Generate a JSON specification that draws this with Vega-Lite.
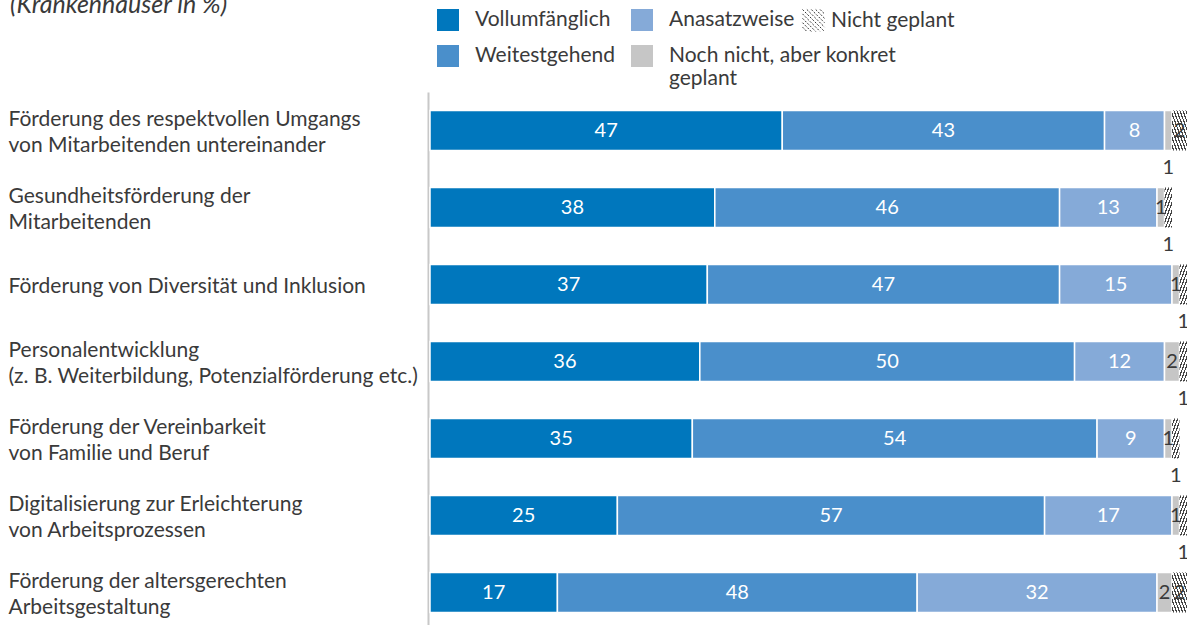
{
  "$schema": "https://vega.github.io/schema/vega-lite/v6.json",
  "width": 757,
  "height": 539,
  "autosize": {"type": "none"},
  "padding": {"left": 430, "top": 92, "right": 0, "bottom": 0},
  "background": "white",
  "config": {"view": {"stroke": null}, "font": "Lato"},
  "title": {"text": "(Krankenhäuser in %)", "anchor": "start", "fontSize": 25, "fontStyle": "italic", "fontWeight": "normal", "color": "#3a3a3a", "font": "Lato", "offset": 0, "dy": 9, "dx": 2},
  "data": {"values": [
    {"item": "Förderung des respektvollen Umgangs|von Mitarbeitenden untereinander", "cat": "Vollumfänglich", "value": 47},
    {"item": "Förderung des respektvollen Umgangs|von Mitarbeitenden untereinander", "cat": "Weitestgehend", "value": 43},
    {"item": "Förderung des respektvollen Umgangs|von Mitarbeitenden untereinander", "cat": "Anasatzweise", "value": 8},
    {"item": "Förderung des respektvollen Umgangs|von Mitarbeitenden untereinander", "cat": "Noch nicht, aber konkret geplant", "value": 1},
    {"item": "Förderung des respektvollen Umgangs|von Mitarbeitenden untereinander", "cat": "Nicht geplant", "value": 2},
    {"item": "Gesundheitsförderung der|Mitarbeitenden", "cat": "Vollumfänglich", "value": 38},
    {"item": "Gesundheitsförderung der|Mitarbeitenden", "cat": "Weitestgehend", "value": 46},
    {"item": "Gesundheitsförderung der|Mitarbeitenden", "cat": "Anasatzweise", "value": 13},
    {"item": "Gesundheitsförderung der|Mitarbeitenden", "cat": "Noch nicht, aber konkret geplant", "value": 1},
    {"item": "Gesundheitsförderung der|Mitarbeitenden", "cat": "Nicht geplant", "value": 1},
    {"item": "Förderung von Diversität und Inklusion", "cat": "Vollumfänglich", "value": 37},
    {"item": "Förderung von Diversität und Inklusion", "cat": "Weitestgehend", "value": 47},
    {"item": "Förderung von Diversität und Inklusion", "cat": "Anasatzweise", "value": 15},
    {"item": "Förderung von Diversität und Inklusion", "cat": "Noch nicht, aber konkret geplant", "value": 1},
    {"item": "Förderung von Diversität und Inklusion", "cat": "Nicht geplant", "value": 1},
    {"item": "Personalentwicklung|(z. B. Weiterbildung, Potenzialförderung etc.)", "cat": "Vollumfänglich", "value": 36},
    {"item": "Personalentwicklung|(z. B. Weiterbildung, Potenzialförderung etc.)", "cat": "Weitestgehend", "value": 50},
    {"item": "Personalentwicklung|(z. B. Weiterbildung, Potenzialförderung etc.)", "cat": "Anasatzweise", "value": 12},
    {"item": "Personalentwicklung|(z. B. Weiterbildung, Potenzialförderung etc.)", "cat": "Noch nicht, aber konkret geplant", "value": 2},
    {"item": "Personalentwicklung|(z. B. Weiterbildung, Potenzialförderung etc.)", "cat": "Nicht geplant", "value": 1},
    {"item": "Förderung der Vereinbarkeit|von Familie und Beruf", "cat": "Vollumfänglich", "value": 35},
    {"item": "Förderung der Vereinbarkeit|von Familie und Beruf", "cat": "Weitestgehend", "value": 54},
    {"item": "Förderung der Vereinbarkeit|von Familie und Beruf", "cat": "Anasatzweise", "value": 9},
    {"item": "Förderung der Vereinbarkeit|von Familie und Beruf", "cat": "Noch nicht, aber konkret geplant", "value": 1},
    {"item": "Förderung der Vereinbarkeit|von Familie und Beruf", "cat": "Nicht geplant", "value": 1},
    {"item": "Digitalisierung zur Erleichterung|von Arbeitsprozessen", "cat": "Vollumfänglich", "value": 25},
    {"item": "Digitalisierung zur Erleichterung|von Arbeitsprozessen", "cat": "Weitestgehend", "value": 57},
    {"item": "Digitalisierung zur Erleichterung|von Arbeitsprozessen", "cat": "Anasatzweise", "value": 17},
    {"item": "Digitalisierung zur Erleichterung|von Arbeitsprozessen", "cat": "Noch nicht, aber konkret geplant", "value": 1},
    {"item": "Digitalisierung zur Erleichterung|von Arbeitsprozessen", "cat": "Nicht geplant", "value": 1},
    {"item": "Förderung der altersgerechten|Arbeitsgestaltung", "cat": "Vollumfänglich", "value": 17},
    {"item": "Förderung der altersgerechten|Arbeitsgestaltung", "cat": "Weitestgehend", "value": 48},
    {"item": "Förderung der altersgerechten|Arbeitsgestaltung", "cat": "Anasatzweise", "value": 32},
    {"item": "Förderung der altersgerechten|Arbeitsgestaltung", "cat": "Noch nicht, aber konkret geplant", "value": 2},
    {"item": "Förderung der altersgerechten|Arbeitsgestaltung", "cat": "Nicht geplant", "value": 2}
  ]},
  "transform": [
    {"calculate": "indexof(['Vollumfänglich','Weitestgehend','Anasatzweise','Noch nicht, aber konkret geplant','Nicht geplant'], datum.cat)", "as": "k"},
    {"stack": "value", "groupby": ["item"], "sort": [{"field": "k", "order": "ascending"}], "as": ["x0", "x1"]},
    {"calculate": "(datum.x0 + datum.x1) / 2", "as": "mid"}
  ],
  "encoding": {
    "y": {
      "field": "item", "type": "nominal",
      "sort": [
        "Förderung des respektvollen Umgangs|von Mitarbeitenden untereinander",
        "Gesundheitsförderung der|Mitarbeitenden",
        "Förderung von Diversität und Inklusion",
        "Personalentwicklung|(z. B. Weiterbildung, Potenzialförderung etc.)",
        "Förderung der Vereinbarkeit|von Familie und Beruf",
        "Digitalisierung zur Erleichterung|von Arbeitsprozessen",
        "Förderung der altersgerechten|Arbeitsgestaltung"
      ],
      "scale": {"paddingInner": 0.48, "paddingOuter": 0.24},
      "axis": {
        "title": null,
        "labelExpr": "split(datum.label, '|')",
        "labelAlign": "left",
        "labelBaseline": "middle",
        "offset": 2,
        "labelPadding": 420,
        "labelOffset": {"condition": {"test": "indexof(datum.value, '|') >= 0", "value": -11}, "value": 2},
        "ticks": false,
        "tickSize": 0,
        "labelFont": "Lato",
        "labelFontSize": 21,
        "labelColor": "#3a3a3a",
        "labelLimit": 430,
        "labelLineHeight": 26,
        "domainColor": "#c8c8c8",
        "domainWidth": 2
      }
    },
    "x": {"field": "x0", "type": "quantitative", "scale": {"domain": [0, 101], "nice": false, "zero": true}, "axis": null}
  },
  "resolve": {"scale": {"fill": "independent"}, "legend": {"fill": "independent"}},
  "layer": [
    {
      "transform": [{"filter": "datum.k <= 3"}],
      "mark": {"type": "bar", "stroke": "white", "strokeWidth": 1.5},
      "encoding": {
        "x2": {"field": "x1"},
        "fill": {
          "field": "cat", "type": "nominal",
          "scale": {
            "domain": ["Vollumfänglich", "Weitestgehend", "Anasatzweise", "Noch nicht, aber konkret geplant"],
            "range": ["#0077bd", "#4a8fcb", "#85aad8", "#c6c6c6"]
          },
          "legend": {
            "orient": "none",
            "legendX": 7,
            "legendY": -83,
            "columns": 2,
            "direction": "horizontal",
            "title": null,
            "padding": 0,
            "values": ["Vollumfänglich", "Anasatzweise", "Weitestgehend", "Noch nicht, aber konkret geplant"],
            "symbolType": "square",
            "symbolSize": 484,
            "symbolStrokeWidth": 0,
            "labelFont": "Lato",
            "labelFontSize": 21,
            "labelColor": "#3a3a3a",
            "labelOffset": 16,
            "labelLimit": 300,
            "columnPadding": 16,
            "rowPadding": 14,
            "labelExpr": "datum.label == 'Noch nicht, aber konkret geplant' ? ['Noch nicht, aber konkret', 'geplant'] : datum.label",
            "labelLineHeight": 26
          }
        }
      }
    },
    {
      "transform": [{"filter": "datum.k == 4"}],
      "mark": {"type": "bar"},
      "encoding": {
        "x2": {"field": "x1"},
        "fill": {
          "condition": {"test": "datum.k == 4", "value": {"gradient": "linear", "x1": 0, "y1": 1, "x2": 1, "y2": 0, "stops": [
            {"offset": 0, "color": "#ffffff"}, {"offset": 0.04, "color": "#ffffff"}, {"offset": 0.04, "color": "#444444"}, {"offset": 0.08, "color": "#444444"},
            {"offset": 0.08, "color": "#ffffff"}, {"offset": 0.14, "color": "#ffffff"},
            {"offset": 0.14, "color": "#444444"}, {"offset": 0.18, "color": "#444444"}, {"offset": 0.18, "color": "#ffffff"}, {"offset": 0.24, "color": "#ffffff"},
            {"offset": 0.24, "color": "#444444"}, {"offset": 0.28, "color": "#444444"}, {"offset": 0.28, "color": "#ffffff"}, {"offset": 0.34, "color": "#ffffff"},
            {"offset": 0.34, "color": "#444444"}, {"offset": 0.38, "color": "#444444"}, {"offset": 0.38, "color": "#ffffff"}, {"offset": 0.44, "color": "#ffffff"},
            {"offset": 0.44, "color": "#444444"}, {"offset": 0.48, "color": "#444444"}, {"offset": 0.48, "color": "#ffffff"}, {"offset": 0.54, "color": "#ffffff"},
            {"offset": 0.54, "color": "#444444"}, {"offset": 0.58, "color": "#444444"}, {"offset": 0.58, "color": "#ffffff"}, {"offset": 0.64, "color": "#ffffff"},
            {"offset": 0.64, "color": "#444444"}, {"offset": 0.68, "color": "#444444"}, {"offset": 0.68, "color": "#ffffff"}, {"offset": 0.74, "color": "#ffffff"},
            {"offset": 0.74, "color": "#444444"}, {"offset": 0.78, "color": "#444444"}, {"offset": 0.78, "color": "#ffffff"}, {"offset": 0.84, "color": "#ffffff"},
            {"offset": 0.84, "color": "#444444"}, {"offset": 0.88, "color": "#444444"}, {"offset": 0.88, "color": "#ffffff"}, {"offset": 0.94, "color": "#ffffff"},
            {"offset": 0.94, "color": "#444444"}, {"offset": 0.98, "color": "#444444"}, {"offset": 0.98, "color": "#ffffff"}, {"offset": 1, "color": "#ffffff"}
          ]}},
          "field": "cat", "type": "nominal",
          "scale": {"domain": ["Nicht geplant"], "range": ["#ffffff"]},
          "legend": {
            "orient": "none",
            "legendX": 372,
            "legendY": -83,
            "title": null,
            "padding": 0,
            "symbolType": "M0.6,-1L1,-0.6M0.2,-1L1,-0.2M-0.2,-1L1,0.2M-0.6,-1L1,0.6M-1,-1L1,1M-1,-0.6L0.6,1M-1,-0.2L0.2,1M-1,0.2L-0.2,1M-1,0.6L-0.6,1",
            "symbolSize": 484,
            "symbolStrokeColor": "#333333",
            "symbolStrokeWidth": 1,
            "symbolDash": [2, 1.5],
            "labelFont": "Lato",
            "labelFontSize": 21,
            "labelColor": "#3a3a3a",
            "labelOffset": 6
          }
        }
      }
    },
    {
      "transform": [{"filter": "datum.k <= 2"}],
      "mark": {"type": "text", "color": "white", "fontSize": 20, "font": "Lato", "baseline": "middle", "align": "center"},
      "encoding": {
        "x": {"field": "mid", "type": "quantitative"},
        "text": {"field": "value", "type": "quantitative"}
      }
    },
    {
      "transform": [{"filter": "(datum.k == 3 && indexof(datum.item, 'respektvollen') < 0) || (datum.k == 4 && (indexof(datum.item, 'respektvollen') >= 0 || indexof(datum.item, 'altersgerechten') >= 0))"}],
      "mark": {"type": "text", "color": "#3a3a3a", "fontSize": 20, "font": "Lato", "baseline": "middle", "align": "center"},
      "encoding": {
        "x": {"field": "mid", "type": "quantitative"},
        "text": {"field": "value", "type": "quantitative"}
      }
    },
    {
      "transform": [{"filter": "(datum.k == 3 && indexof(datum.item, 'respektvollen') >= 0) || (datum.k == 4 && indexof(datum.item, 'respektvollen') < 0 && indexof(datum.item, 'altersgerechten') < 0)"}],
      "mark": {"type": "text", "color": "#3a3a3a", "fontSize": 20, "font": "Lato", "baseline": "middle", "align": "center", "yOffset": 37},
      "encoding": {
        "x": {"field": "mid", "type": "quantitative"},
        "text": {"field": "value", "type": "quantitative"}
      }
    }
  ]
}
